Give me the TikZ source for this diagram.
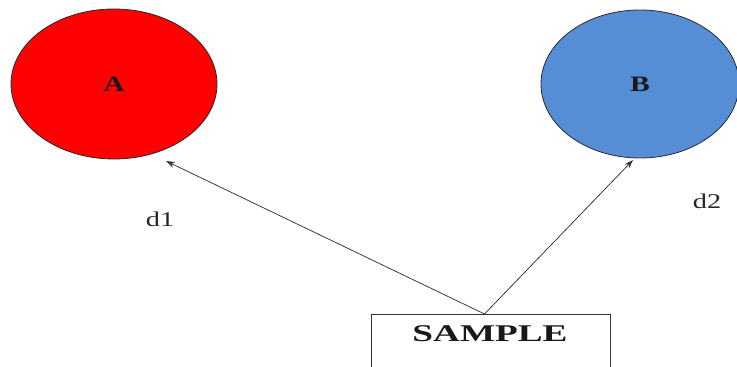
\documentclass[tikz,border=0pt]{standalone}
\usepackage{fontspec}
\setmainfont[FakeStretch=1.35]{Liberation Serif}
\newfontfamily\widefont[FakeStretch=1.55]{Liberation Serif}
\usetikzlibrary{arrows.meta,shapes.geometric}
\definecolor{fillA}{RGB}{255,0,0}
\definecolor{fillB}{RGB}{85,142,213}
\definecolor{rimcol}{RGB}{40,40,50}
\tikzset{
  x=1pt, y=1pt,
  blob/.style={ellipse, draw=rimcol, line width=0.8pt},
  caption/.style={font=\fontsize{22}{26}\selectfont\bfseries, text=black!90},
  boxtext/.style={font=\widefont\fontsize{24}{27}\selectfont\bfseries, text=black!90},
  tag/.style={font=\fontsize{21}{24}\selectfont, text=black!85},
  link/.style={draw=black!80, line width=0.75pt, -{Stealth[length=9pt,width=6pt]}}
}
\begin{document}
\begin{tikzpicture}
\useasboundingbox (0,0) rectangle (737,367);
\fill[white] (0,0) rectangle (737,367);
\begin{scope}
\clip (0,0) rectangle (737,367);
% the two sets
\node[blob, fill=fillA, minimum width=206pt, minimum height=150pt, inner sep=0pt] (A) at (114,283) {};
\node[caption] at (A.center) {A};
\node[blob, fill=fillB, minimum width=198pt, minimum height=148pt, inner sep=0pt] (B) at (640,283) {};
\node[caption] at (B.center) {B};
% the sample box, running past the lower edge
\node[draw=black!80, line width=0.9pt, minimum width=239pt, minimum height=72pt, anchor=north, inner sep=0pt] (sample) at (490.5,53) {};
\node[boxtext] at (490,33) {SAMPLE};
% distances
\coordinate (tipA) at (166,206);
\coordinate (tipB) at (633,207);
\draw[link] ([xshift=-6pt]sample.north) -- (tipA);
\draw[link] ([xshift=-6pt]sample.north) -- (tipB);
\node[tag] (d1) at (160,148) {d1};
\node[tag] (d2) at (707,166) {d2};
\end{scope}
\end{tikzpicture}
\end{document}
